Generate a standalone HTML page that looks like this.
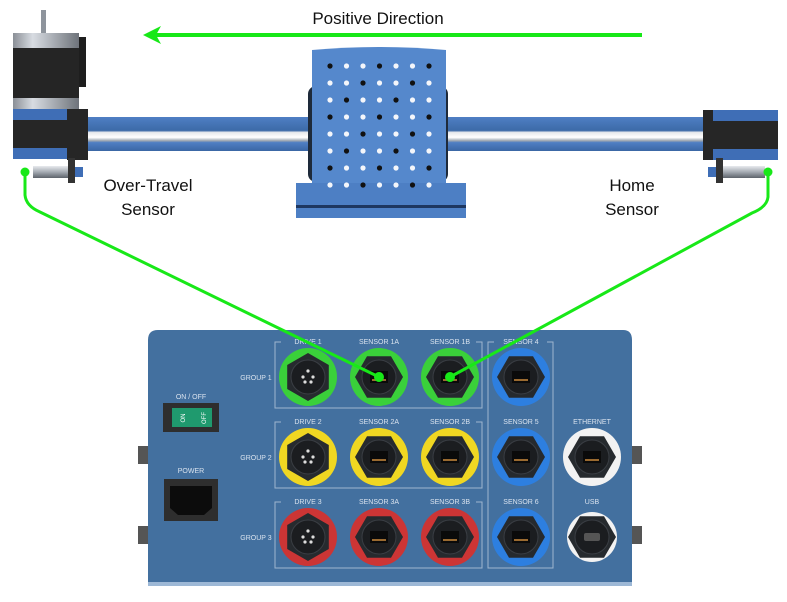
<!DOCTYPE html>
<html><head><meta charset="utf-8"><style>
html,body{margin:0;padding:0;background:#fff;}
svg{display:block;font-family:"Liberation Sans",sans-serif;}
</style></head><body>
<svg width="787" height="602" viewBox="0 0 787 602">
<defs>
<linearGradient id="rail" x1="0" y1="0" x2="0" y2="1">
<stop offset="0" stop-color="#4f7fc4"/><stop offset="0.4" stop-color="#3c6aa8"/><stop offset="0.45" stop-color="#e6e8ec"/><stop offset="0.6" stop-color="#ffffff"/><stop offset="0.7" stop-color="#9aa4b0"/><stop offset="0.75" stop-color="#4f7fc4"/><stop offset="1" stop-color="#3a66a4"/>
</linearGradient>
<linearGradient id="motor" x1="0" y1="0" x2="1" y2="0">
<stop offset="0" stop-color="#8a8f96"/><stop offset="0.3" stop-color="#d8dce2"/><stop offset="1" stop-color="#6e737a"/>
</linearGradient>
<linearGradient id="cyl" x1="0" y1="0" x2="0" y2="1">
<stop offset="0" stop-color="#e8eaee"/><stop offset="0.5" stop-color="#a4aab2"/><stop offset="1" stop-color="#5d636b"/>
</linearGradient>
</defs>

<!-- Top stage -->
<text x="378" y="24" font-size="17" text-anchor="middle" fill="#111">Positive Direction</text>
<g>
<line x1="642" y1="35" x2="155" y2="35" stroke="#18e818" stroke-width="4"/>
<polygon points="143,35 161,26 156,35 161,44" fill="#18e818"/>
</g>

<rect x="60" y="117" width="645" height="34" fill="url(#rail)"/>

<g>
<rect x="41" y="10" width="5" height="24" fill="#8e949c"/>
<rect x="13" y="33" width="66" height="78" fill="url(#motor)"/>
<rect x="13" y="48" width="66" height="50" fill="#252525"/>
<rect x="79" y="37" width="7" height="50" fill="#1e1e1e"/>
</g>
<g>
<rect x="13" y="109" width="75" height="50" fill="#3f6eb6"/>
<rect x="13" y="120" width="75" height="28" fill="#262626"/>
<rect x="67" y="109" width="21" height="51" fill="#262626"/>
</g>
<g>
<rect x="33" y="166" width="40" height="12" fill="url(#cyl)"/>
<rect x="68" y="158" width="7" height="25" fill="#333"/>
<rect x="75" y="167" width="8" height="10" fill="#3f6eb6"/>
</g>

<g>
<rect x="703" y="110" width="75" height="50" fill="#3f6eb6"/>
<rect x="703" y="121" width="75" height="28" fill="#262626"/>
<rect x="703" y="110" width="10" height="50" fill="#262626"/>
</g>
<g>
<rect x="708" y="167" width="8" height="10" fill="#3f6eb6"/>
<rect x="716" y="158" width="7" height="25" fill="#333"/>
<rect x="723" y="166" width="42" height="12" fill="url(#cyl)"/>
</g>

<g>
<rect x="308" y="86" width="140" height="96" rx="8" fill="#1e2a3a"/>
<path d="M312,50 Q378,44 446,50 L446,190 L312,190 Z" fill="#5588cc"/>
<rect x="296" y="183" width="170" height="35" fill="#4d7fc4"/>
<rect x="296" y="205" width="170" height="3" fill="#1e3760"/>
</g>
<g id="holes"></g>

<text x="148" y="191" font-size="17" text-anchor="middle" fill="#111"><tspan x="148">Over-Travel</tspan><tspan x="148" dy="24">Sensor</tspan></text>
<text x="632" y="191" font-size="17" text-anchor="middle" fill="#111"><tspan x="632">Home</tspan><tspan x="632" dy="24">Sensor</tspan></text>

<!-- Controller box -->
<g>
<rect x="138" y="446" width="12" height="18" fill="#555"/>
<rect x="138" y="526" width="12" height="18" fill="#555"/>
<rect x="630" y="446" width="12" height="18" fill="#555"/>
<rect x="630" y="526" width="12" height="18" fill="#555"/>
<path d="M148,340 Q148,330 158,330 L623,330 Q632,330 632,340 L632,586 L148,586 Z" fill="#43709f"/>
<rect x="148" y="582" width="484" height="4" fill="#9db8d6"/>
</g>
<g fill="none" stroke="#9fb6cf" stroke-width="1">
<path d="M281,342 L275,342 L275,408 L482,408 L482,342 L476,342"/>
<path d="M281,422 L275,422 L275,488 L482,488 L482,422 L476,422"/>
<path d="M281,502 L275,502 L275,568 L482,568 L482,502 L476,502"/>
<path d="M494,342 L488,342 L488,568 L553,568 L553,342 L547,342"/>
</g>
<g font-size="7" fill="#d8e2ee" text-anchor="middle">
<text x="256" y="380">GROUP 1</text><text x="256" y="460">GROUP 2</text><text x="256" y="540">GROUP 3</text>
<text x="308" y="344">DRIVE 1</text><text x="379" y="344">SENSOR 1A</text><text x="450" y="344">SENSOR 1B</text><text x="521" y="344">SENSOR 4</text>
<text x="308" y="424">DRIVE 2</text><text x="379" y="424">SENSOR 2A</text><text x="450" y="424">SENSOR 2B</text><text x="521" y="424">SENSOR 5</text><text x="592" y="424">ETHERNET</text>
<text x="308" y="504">DRIVE 3</text><text x="379" y="504">SENSOR 3A</text><text x="450" y="504">SENSOR 3B</text><text x="521" y="504">SENSOR 6</text><text x="592" y="504">USB</text>
<text x="191" y="399">ON / OFF</text><text x="191" y="473">POWER</text>
</g>
<g>
<rect x="163" y="403" width="56" height="29" fill="#2e2e2e"/>
<rect x="172" y="408" width="40" height="19" fill="#1f9a6e"/>
<text x="183" y="420" font-size="6" fill="#fff" text-anchor="middle" transform="rotate(-90 183 418)">ON</text>
<text x="204" y="420" font-size="6" fill="#fff" text-anchor="middle" transform="rotate(-90 204 418)">OFF</text>
</g>
<g>
<rect x="164" y="479" width="54" height="42" fill="#2e2e2e"/>
<path d="M170,486 L212,486 L212,508 L204,515 L178,515 L170,508 Z" fill="#0c0c0c"/>
</g>
<g id="ports"></g>

<!-- Wires -->
<g fill="none" stroke="#18e818" stroke-width="3">
<path d="M25,172 L25,195 Q26,206 40,212 L379,377"/>
<path d="M768,172 L768,197 Q767,207 752,213 L450,377"/>
</g>
<g fill="#18e818">
<circle cx="25" cy="172" r="4.5"/>
<circle cx="768" cy="172" r="4.5"/>
<circle cx="379" cy="377" r="5"/>
<circle cx="450" cy="377" r="5"/>
</g>

<script>
const portCols = [308, 379, 450, 521, 592];
const portRows = [377, 457, 537];
const ns = 'http://www.w3.org/2000/svg';
const ports = [
 ['drive-1',0,0,'#3ad03a','drive'],['sensor-1a',1,0,'#3ad03a','rj'],['sensor-1b',2,0,'#3ad03a','rj'],['sensor-4',3,0,'#2d7fe0','rj'],
 ['drive-2',0,1,'#f0d722','drive'],['sensor-2a',1,1,'#f0d722','rj'],['sensor-2b',2,1,'#f0d722','rj'],['sensor-5',3,1,'#2d7fe0','rj'],['ethernet',4,1,'#f2f2f2','rj'],
 ['drive-3',0,2,'#cc3535','drive'],['sensor-3a',1,2,'#cc3535','rj'],['sensor-3b',2,2,'#cc3535','rj'],['sensor-6',3,2,'#2d7fe0','rj'],['usb',4,2,'#f2f2f2','usb']
];
const pg = document.getElementById('ports');
function mk(tag, attrs, parent){const e=document.createElementNS(ns,tag);for(const k in attrs)e.setAttribute(k,attrs[k]);parent.appendChild(e);return e;}
ports.forEach(p=>{
 const cx=portCols[p[1]], cy=portRows[p[2]];
 const g=mk('g',{},pg);
 
 
 mk('circle',{cx:cx,cy:cy,r:p[4]==='usb'?25:29,fill:p[3]},g);
 let pts=[];for(let i=0;i<6;i++){const a=Math.PI/3*i+(p[4]==='drive'?Math.PI/6:0);pts.push((cx+24*Math.cos(a)).toFixed(1)+','+(cy+24*Math.sin(a)).toFixed(1));}
 mk('polygon',{points:pts.join(' '),fill:'#262a2e'},g);
 mk('circle',{cx:cx,cy:cy,r:17,fill:'#1b1d20',stroke:'#3a3e44','stroke-width':1},g);
 if(p[4]==='rj'){mk('rect',{x:cx-9,y:cy-6,width:18,height:12,fill:'#0a0a0a'},g);mk('rect',{x:cx-7,y:cy+2,width:14,height:2,fill:'#9a6a30'},g);}
 else if(p[4]==='drive'){[[0,-6],[-5,0],[5,0],[-3,5],[3,5]].forEach(d=>mk('circle',{cx:cx+d[0],cy:cy+d[1],r:1.6,fill:'#ddd'},g));}
 else {mk('rect',{x:cx-8,y:cy-4,width:16,height:8,rx:2,fill:'#555'},g);}
});
const holeCols=[0,1,2,3,4,5,6];
const holeRows=[0,1,2,3,4,5,6,7];
const hg=document.getElementById('holes');
holeRows.forEach(r=>holeCols.forEach(c=>{
 const h=mk('circle',{cx:330+c*16.5,cy:66+r*17,r:2.6,fill:(r+c)%3===0?'#111':'#f4f6fa'},hg);
 
 
}));
</script>
</svg>
</body></html>
